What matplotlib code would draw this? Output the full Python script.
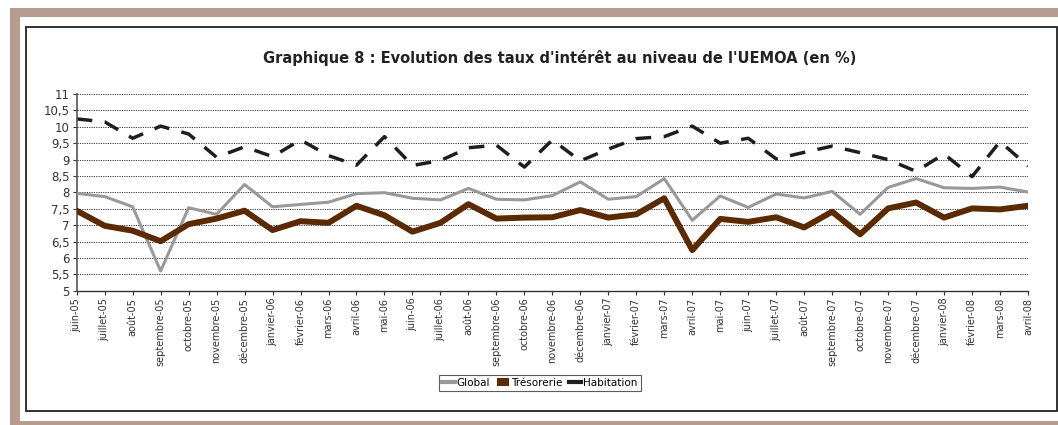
import matplotlib.pyplot as plt
from matplotlib.patches import Rectangle, Patch
from matplotlib.lines import Line2D
import numpy as np

# months shown on the x axis
months = ["juin-05", "juillet-05", "août-05", "septembre-05", "octobre-05", "novembre-05", "décembre-05",
          "janvier-06", "février-06", "mars-06", "avril-06", "mai-06", "juin-06", "juillet-06", "août-06",
          "septembre-06", "octobre-06", "novembre-06", "décembre-06",
          "janvier-07", "février-07", "mars-07", "avril-07", "mai-07", "juin-07", "juillet-07", "août-07",
          "septembre-07", "octobre-07", "novembre-07", "décembre-07",
          "janvier-08", "février-08", "mars-08", "avril-08"]

glob = [7.97, 7.87, 7.56, 5.60, 7.53, 7.33, 8.24, 7.56, 7.63, 7.70, 7.96, 7.99,
        7.82, 7.77, 8.12, 7.79, 7.77, 7.90, 8.32, 7.79, 7.87, 8.42, 7.15, 7.89,
        7.54, 7.95, 7.83, 8.03, 7.33, 8.15, 8.42, 8.14, 8.12, 8.16, 8.01]

treso = [7.44, 6.98, 6.83, 6.51, 7.03, 7.20, 7.44, 6.85, 7.12, 7.07, 7.59, 7.30,
         6.80, 7.07, 7.64, 7.20, 7.23, 7.24, 7.46, 7.23, 7.33, 7.82, 6.24, 7.19,
         7.10, 7.24, 6.93, 7.41, 6.72, 7.51, 7.69, 7.23, 7.51, 7.48, 7.59]

habit = [10.24, 10.15, 9.65, 10.02, 9.78, 9.07, 9.39, 9.09, 9.60, 9.12, 8.83, 9.70,
         8.82, 8.97, 9.36, 9.44, 8.77, 9.60, 8.96, 9.32, 9.64, 9.70, 10.02, 9.50,
         9.65, 9.02, 9.22, 9.41, 9.21, 9.00, 8.64, 9.17, 8.48, 9.55, 8.80]

yticks = np.arange(5, 11.01, 0.5)
ylabels = [("%g" % v).replace(".", ",") for v in yticks]

c_glob = "#999999"
c_treso = "#5c2a00"
c_habit = "#1e1e1e"
tan = "#b89c8f"

fig = plt.figure(figsize=(10.58, 4.25), dpi=100)
W, H = 1058, 425

# frame: tan band, white inside, black box (drawn below the axes)
fig.patches.append(Rectangle((10 / W, 0), 1 - 10 / W, 1 - 8 / H, transform=fig.transFigure,
                             facecolor=tan, edgecolor="none", zorder=-3))
fig.patches.append(Rectangle((20 / W, 4 / H), 1 - 20 / W, 1 - 21 / H, transform=fig.transFigure,
                             facecolor="white", edgecolor="none", zorder=-2))
fig.patches.append(Rectangle((26 / W, 1 - 411 / H), 1031 / W, 384 / H, transform=fig.transFigure,
                             facecolor="white", edgecolor="#222222", linewidth=1.3, zorder=-1))

ax = fig.add_axes([76.7 / W, 1 - 290.7 / H, (1028 - 76.7) / W, (290.7 - 94) / H])
ax.set_facecolor("none")
x = np.arange(len(months))

for v in yticks[1:]:
    ax.axhline(v, color="#333333", linestyle=(0, (1.2, 1.2)), linewidth=0.7, zorder=1)

ax.plot(x, glob, color=c_glob, linewidth=2.2, zorder=3)
ax.plot(x, treso, color=c_treso, linewidth=4.3, zorder=4)
ax.plot(x, habit, color=c_habit, linewidth=2.5, dashes=(4.5, 3.6), zorder=2)

ax.set_xlim(0, len(months) - 1)
ax.set_ylim(5, 11)
ax.set_yticks(yticks)
ax.set_yticklabels(ylabels, fontsize=8.5, color="#333333")
ax.set_xticks(x)
ax.set_xticklabels(months, rotation=90, fontsize=7, color="#333333", va="top")
ax.tick_params(axis="both", direction="out", length=3, width=0.8, color="#333333", pad=2)

for s in ["top", "right"]:
    ax.spines[s].set_visible(False)
ax.spines["left"].set_color("#555555")
ax.spines["bottom"].set_color("#333333")
ax.spines["left"].set_linewidth(1.2)
ax.spines["bottom"].set_linewidth(1.0)

fig.text(560 / W, 1 - 58 / H, "Graphique 8 : Evolution des taux d'intérêt au niveau de l'UEMOA (en %)",
         ha="center", va="center", fontsize=10.5, fontweight="bold", color="#222222")

handles = [Line2D([], [], color=c_glob, linewidth=3),
           Patch(facecolor=c_treso, edgecolor="none"),
           Line2D([], [], color=c_habit, linewidth=3)]
leg = fig.legend(handles, ["Global", "Trésorerie", "Habitation"], loc="center",
                 bbox_to_anchor=(540 / W, 1 - 383 / H), ncol=3, fontsize=7.5,
                 frameon=True, fancybox=False, handlelength=1.2, handleheight=0.8,
                 handletextpad=0.2, columnspacing=0.6, borderpad=0.3)
leg.get_frame().set_edgecolor("#333333")
leg.get_frame().set_linewidth(0.8)

fig.savefig("out.png", dpi=100)
